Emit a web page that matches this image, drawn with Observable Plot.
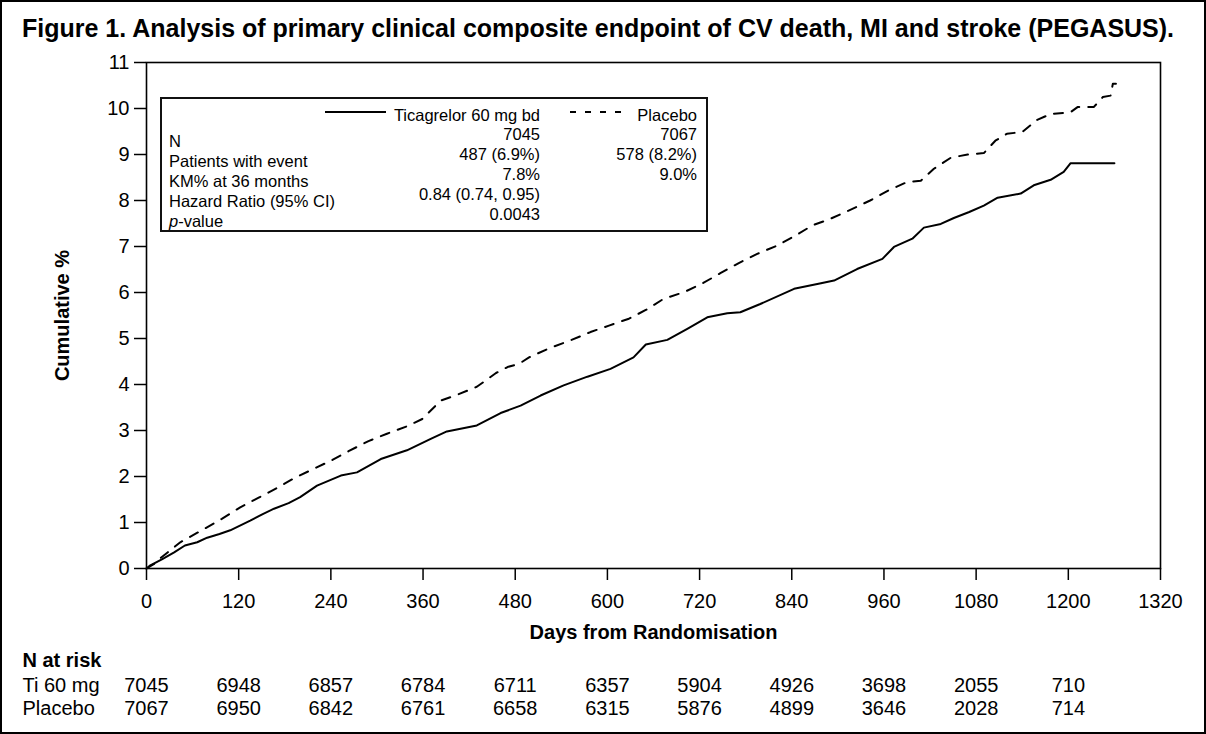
<!DOCTYPE html>
<html>
<head>
<meta charset="utf-8">
<script src="https://cdn.jsdelivr.net/npm/d3@7"></script>
<script src="https://cdn.jsdelivr.net/npm/@observablehq/plot@0.6"></script>
<style>
  html, body { margin: 0; padding: 0; background: #fff; }
  #fig { position: relative; width: 1206px; height: 734px; background: #fff; font-family: "Liberation Sans", Arial, Helvetica, sans-serif; color: #000; overflow: hidden; }
  #frame { position: absolute; left: 0; top: 0; width: 1206px; height: 734px; box-sizing: border-box; border: 2px solid #000; pointer-events: none; }
  #title { position: absolute; left: 22px; top: 13px; font-weight: bold; font-size: 25px; line-height: 30px; white-space: nowrap; }
  #chart { position: absolute; left: 0; top: 0; }
  #legend { position: absolute; left: 160px; top: 97px; width: 548px; height: 135px; box-sizing: border-box; border: 2px solid #111; background: #fff; font-size: 16.5px; }
  #legend .t { position: absolute; white-space: nowrap; line-height: 1; transform: translateY(-50%); }
  #legend .r { text-align: right; }
</style>
</head>
<body>
<div id="fig">
  <div id="chart"></div>
  <div id="title">Figure 1. Analysis of primary clinical composite endpoint of CV death, MI and stroke (PEGASUS).</div>
  <div id="legend"></div>
  <div id="frame"></div>
</div>
<script>
// ---- Data ----
const tiDays = [0,5,20,36,50,66,79,95,109,135,150,166,185,200,222,253,274,305,339,370,391,430,461,487,513,543,574,604,634,650,678,704,730,756,773,799,843,878,895,925,958,973,997,1012,1034,1051,1071,1090,1108,1138,1155,1177,1194,1203,1260];
const tiVals = [0,0.07,0.2,0.35,0.5,0.57,0.67,0.75,0.83,1.04,1.17,1.30,1.42,1.55,1.80,2.02,2.09,2.38,2.57,2.82,2.98,3.11,3.38,3.54,3.76,3.98,4.17,4.34,4.59,4.87,4.97,5.21,5.46,5.55,5.57,5.75,6.08,6.20,6.26,6.51,6.73,6.99,7.17,7.41,7.49,7.62,7.75,7.89,8.06,8.15,8.33,8.45,8.62,8.81,8.81];

const plDays = [0,10,20,44,75,98,122,146,170,194,218,242,263,289,313,339,359,383,405,430,455,470,485,498,526,552,578,602,628,650,673,700,723,747,771,795,821,843,867,890,914,942,966,990,1008,1025,1047,1069,1090,1105,1120,1140,1159,1177,1203,1212,1233,1245,1255,1258,1262];
const plVals = [0,0.1,0.25,0.57,0.86,1.08,1.33,1.54,1.75,1.98,2.17,2.36,2.55,2.77,2.93,3.09,3.25,3.65,3.78,3.95,4.25,4.38,4.45,4.59,4.80,4.96,5.14,5.28,5.43,5.62,5.86,6.01,6.19,6.42,6.64,6.84,7.02,7.22,7.46,7.60,7.78,8.00,8.22,8.40,8.43,8.69,8.93,9.00,9.03,9.30,9.45,9.49,9.75,9.88,9.92,10.03,10.03,10.25,10.28,10.54,10.54];

const xTicks = [0,120,240,360,480,600,720,840,960,1080,1200,1320];
const yTicks = [0,1,2,3,4,5,6,7,8,9,10,11];

const riskDays = [0,120,240,360,480,600,720,840,960,1080,1200];
const riskTi = ["7045","6948","6857","6784","6711","6357","5904","4926","3698","2055","710"];
const riskPl = ["7067","6950","6842","6761","6658","6315","5876","4899","3646","2028","714"];
const riskLabels = ["Ti 60 mg", "Placebo"];

const seriesNames = ["Ticagrelor 60 mg bd", "Placebo"];
const statLabels = ["N", "Patients with event", "KM% at 36 months", "Hazard Ratio (95% CI)", "p-value"];
const statTi = ["7045", "487 (6.9%)", "7.8%", "0.84 (0.74, 0.95)", "0.0043"];
const statPl = ["7067", "578 (8.2%)", "9.0%", "", ""];

// ---- Build tables ----
const ti = tiDays.map((d, i) => ({day: d, val: tiVals[i]}));
const pl = plDays.map((d, i) => ({day: d, val: plVals[i]}));
const riskTable = riskDays.map((d, i) => ({day: d, ti: riskTi[i], pl: riskPl[i]}));

const fontFamily = '"Liberation Sans", Arial, Helvetica, sans-serif';
const FS = 20;

const chart = Plot.plot({
  width: 1206,
  height: 734,
  marginLeft: 146,
  marginRight: 46,
  marginTop: 62,
  marginBottom: 166,
  style: {fontFamily, fontSize: FS + "px", color: "#000", background: "transparent", overflow: "visible"},
  x: {domain: [0, 1320]},
  y: {domain: [0, 11]},
  marks: [
    Plot.axisX({ticks: xTicks, tickFormat: d => String(d), tickSize: 12, tickPadding: 13, label: null, strokeWidth: 1.5, fontSize: FS}),
    Plot.axisY({ticks: yTicks, tickFormat: d => String(d), tickSize: 12, tickPadding: 5, label: null, strokeWidth: 1.5, fontSize: FS}),
    Plot.frame({stroke: "#000", strokeWidth: 1.6}),
    Plot.line(pl, {x: "day", y: "val", stroke: "#000", strokeWidth: 2, strokeDasharray: "9,9"}),
    Plot.line(ti, {x: "day", y: "val", stroke: "#000", strokeWidth: 2}),
    Plot.text(["Days from Randomisation"], {frameAnchor: "bottom", dy: 70, fontWeight: "bold", fontSize: FS}),
    Plot.text(["Cumulative %"], {frameAnchor: "left", dx: -84, rotate: -90, textAnchor: "middle", fontWeight: "bold", fontSize: FS}),
    Plot.text(["N at risk"], {frameAnchor: "bottom-left", dx: -124, dy: 98, textAnchor: "start", fontWeight: "bold", fontSize: FS}),
    Plot.text([riskLabels[0]], {frameAnchor: "bottom-left", dx: -124, dy: 123, textAnchor: "start", fontSize: FS}),
    Plot.text([riskLabels[1]], {frameAnchor: "bottom-left", dx: -124, dy: 146, textAnchor: "start", fontSize: FS}),
    Plot.text(riskTable, {x: "day", text: "ti", frameAnchor: "bottom", dy: 123, fontSize: FS}),
    Plot.text(riskTable, {x: "day", text: "pl", frameAnchor: "bottom", dy: 146, fontSize: FS})
  ]
});
document.getElementById("chart").appendChild(chart);

// ---- Legend / statistics box ----
const lg = document.getElementById("legend");
const ox = 160, oy = 97; // box origin (for absolute page coords below)
function addText(txt, x, y, right, html) {
  const el = document.createElement("div");
  el.className = "t" + (right ? " r" : "");
  if (html) el.innerHTML = txt; else el.textContent = txt;
  if (right) { el.style.right = (ox + 548 - x) + "px"; }
  else { el.style.left = (x - ox) + "px"; }
  el.style.top = (y - oy) + "px";
  lg.appendChild(el);
}
// header row
addText(seriesNames[0], 542, 113, true);
addText(seriesNames[1], 699, 113, true);
const svgNS = "http://www.w3.org/2000/svg";
const ls = document.createElementNS(svgNS, "svg");
ls.setAttribute("width", 548); ls.setAttribute("height", 135);
ls.style.position = "absolute"; ls.style.left = "-2px"; ls.style.top = "-2px";
function seg(x1, x2, y, dash) {
  const l = document.createElementNS(svgNS, "line");
  l.setAttribute("x1", x1 - ox); l.setAttribute("x2", x2 - ox);
  l.setAttribute("y1", y - oy); l.setAttribute("y2", y - oy);
  l.setAttribute("stroke", "#000"); l.setAttribute("stroke-width", 2);
  if (dash) l.setAttribute("stroke-dasharray", dash);
  ls.appendChild(l);
}
seg(325, 386, 112, null);
seg(570, 630, 112, "6,9");
lg.appendChild(ls);

const labelY = [139, 159, 179, 199, 219];
const valueY = [132, 152, 172, 192, 212];
statLabels.forEach((s, i) => {
  const txt = s === "p-value" ? "<i>p</i>-value" : s;
  addText(txt, 167, labelY[i], false, true);
  addText(statTi[i], 542, valueY[i], true);
  if (statPl[i]) addText(statPl[i], 699, valueY[i], true);
});
</script>
</body>
</html>
